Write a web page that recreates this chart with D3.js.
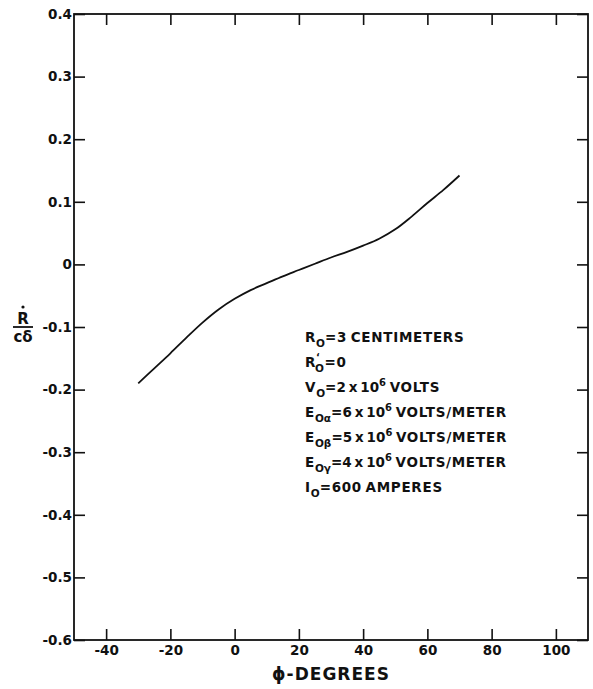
<!DOCTYPE html>
<html><head><meta charset="utf-8">
<script src="https://cdn.jsdelivr.net/npm/d3@7"></script>
<style>
body{margin:0;background:#fff;}
svg text{font-family:"DejaVu Sans",sans-serif;font-weight:bold;fill:#111;}
</style></head>
<body><svg id="c" width="593" height="689"></svg>
<script>
// data
const phiDeg = [-30, -25, -20, -15, -10, -5, 0, 5, 10, 15, 20, 25, 30, 35, 40, 45, 50, 55, 60, 65, 70];
const rDotOverCDelta = [-0.190, -0.166, -0.142, -0.117, -0.093, -0.072, -0.055, -0.041, -0.030, -0.019, -0.009, 0.001, 0.011, 0.020, 0.030, 0.041, 0.056, 0.076, 0.098, 0.119, 0.142];
const xTicks = [-40, -20, 0, 20, 40, 60, 80, 100];
const yTicks = [0.4, 0.3, 0.2, 0.1, 0, -0.1, -0.2, -0.3, -0.4, -0.5, -0.6];
const xTitle = "\u03D5-DEGREES";
const notes = [
  [["R",""],["O","sub"],["=3 CENTIMETERS",""]],
  [["R",""],["\u2018","sup"],["O","subafter"],["=0",""]],
  [["V",""],["O","sub"],["=2 x 10","num"],["6","sup"],[" VOLTS",""]],
  [["E",""],["O\u03B1","sub"],["=6 x 10","num"],["6","sup"],[" VOLTS/METER",""]],
  [["E",""],["O\u03B2","sub"],["=5 x 10","num"],["6","sup"],[" VOLTS/METER",""]],
  [["E",""],["O\u03B3","sub"],["=4 x 10","num"],["6","sup"],[" VOLTS/METER",""]],
  [["I",""],["O","sub"],["=600 AMPERES",""]]
];

const svg = d3.select("#c");
const L = 74, R = 588, T = 14, B = 640;
const x = d3.scaleLinear().domain([-50, 110]).range([L, R]);
const y = d3.scaleLinear().domain([-0.6, 0.4]).range([B, T]);
const fmtY = d => d === 0 ? "0" : d.toFixed(1);

// axes
const gx = svg.append("g").attr("transform", `translate(0,${B})`)
  .call(d3.axisBottom(x).tickValues(xTicks).tickSize(-11).tickPadding(5).tickFormat(d => String(d)));
const gxt = svg.append("g").attr("transform", `translate(0,${T})`)
  .call(d3.axisTop(x).tickValues(xTicks).tickSize(-11).tickFormat(""));
const gy = svg.append("g").attr("transform", `translate(${L},0)`)
  .call(d3.axisLeft(y).tickValues(yTicks).tickSize(-11).tickPadding(2).tickFormat(fmtY));
const gyr = svg.append("g").attr("transform", `translate(${R},0)`)
  .call(d3.axisRight(y).tickValues(yTicks).tickSize(-11).tickFormat(""));
[gx, gxt, gy, gyr].forEach(g => {
  g.select(".domain").remove();
  g.selectAll(".tick line").attr("stroke", "#111").attr("stroke-width", 1.6);
  g.selectAll(".tick text").attr("font-size", 13.5).attr("font-family", "DejaVu Sans")
    .attr("font-weight", "bold").attr("fill", "#111");
});

// frame
svg.append("rect").attr("x", L).attr("y", T).attr("width", R - L).attr("height", B - T)
  .attr("fill", "none").attr("stroke", "#111").attr("stroke-width", 1.8);

// curve
const pts = phiDeg.map((p, i) => [p, rDotOverCDelta[i]]);
svg.append("path").datum(pts)
  .attr("d", d3.line().x(d => x(d[0])).y(d => y(d[1])).curve(d3.curveCatmullRom.alpha(0.5)))
  .attr("fill", "none").attr("stroke", "#111").attr("stroke-width", 1.8);

// x title
svg.append("text").attr("x", 331).attr("y", 680).attr("text-anchor", "middle")
  .attr("font-size", 17).attr("letter-spacing", 1).text(xTitle);

// y title: R-dot over c-delta
const yl = svg.append("g").attr("transform", "translate(23,0)");
yl.append("circle").attr("cx", 0).attr("cy", 307).attr("r", 1.6).attr("fill", "#111");
yl.append("text").attr("x", 0).attr("y", 324).attr("text-anchor", "middle").attr("font-size", 15).text("R");
yl.append("line").attr("x1", -10).attr("x2", 10).attr("y1", 327).attr("y2", 327).attr("stroke", "#111").attr("stroke-width", 1.8);
yl.append("text").attr("x", 0).attr("y", 342).attr("text-anchor", "middle").attr("font-size", 15).text("c\u03B4");

// notes
const nx = 305, ny0 = 342, ndy = 25;
notes.forEach((line, i) => {
  const t = svg.append("text").attr("x", nx).attr("y", ny0 + i * ndy)
    .attr("font-size", 13.5).attr("letter-spacing", 0.7).attr("word-spacing", -1.8);
  let shift = 0;
  line.forEach(([s, kind]) => {
    let target = 0, fs = 13.5;
    if (kind === "sub" || kind === "subafter") { target = 5; fs = 10.5; }
    if (kind === "sup") { target = -6; fs = 10; }
    const ts = t.append("tspan").attr("dy", target - shift).attr("font-size", fs).text(s);
    if (kind === "subafter") ts.attr("dx", -5);
    if (kind === "num" || kind === "sup" || kind === "sub") ts.attr("letter-spacing", 0);
    shift = target;
  });
});
</script></body></html>
